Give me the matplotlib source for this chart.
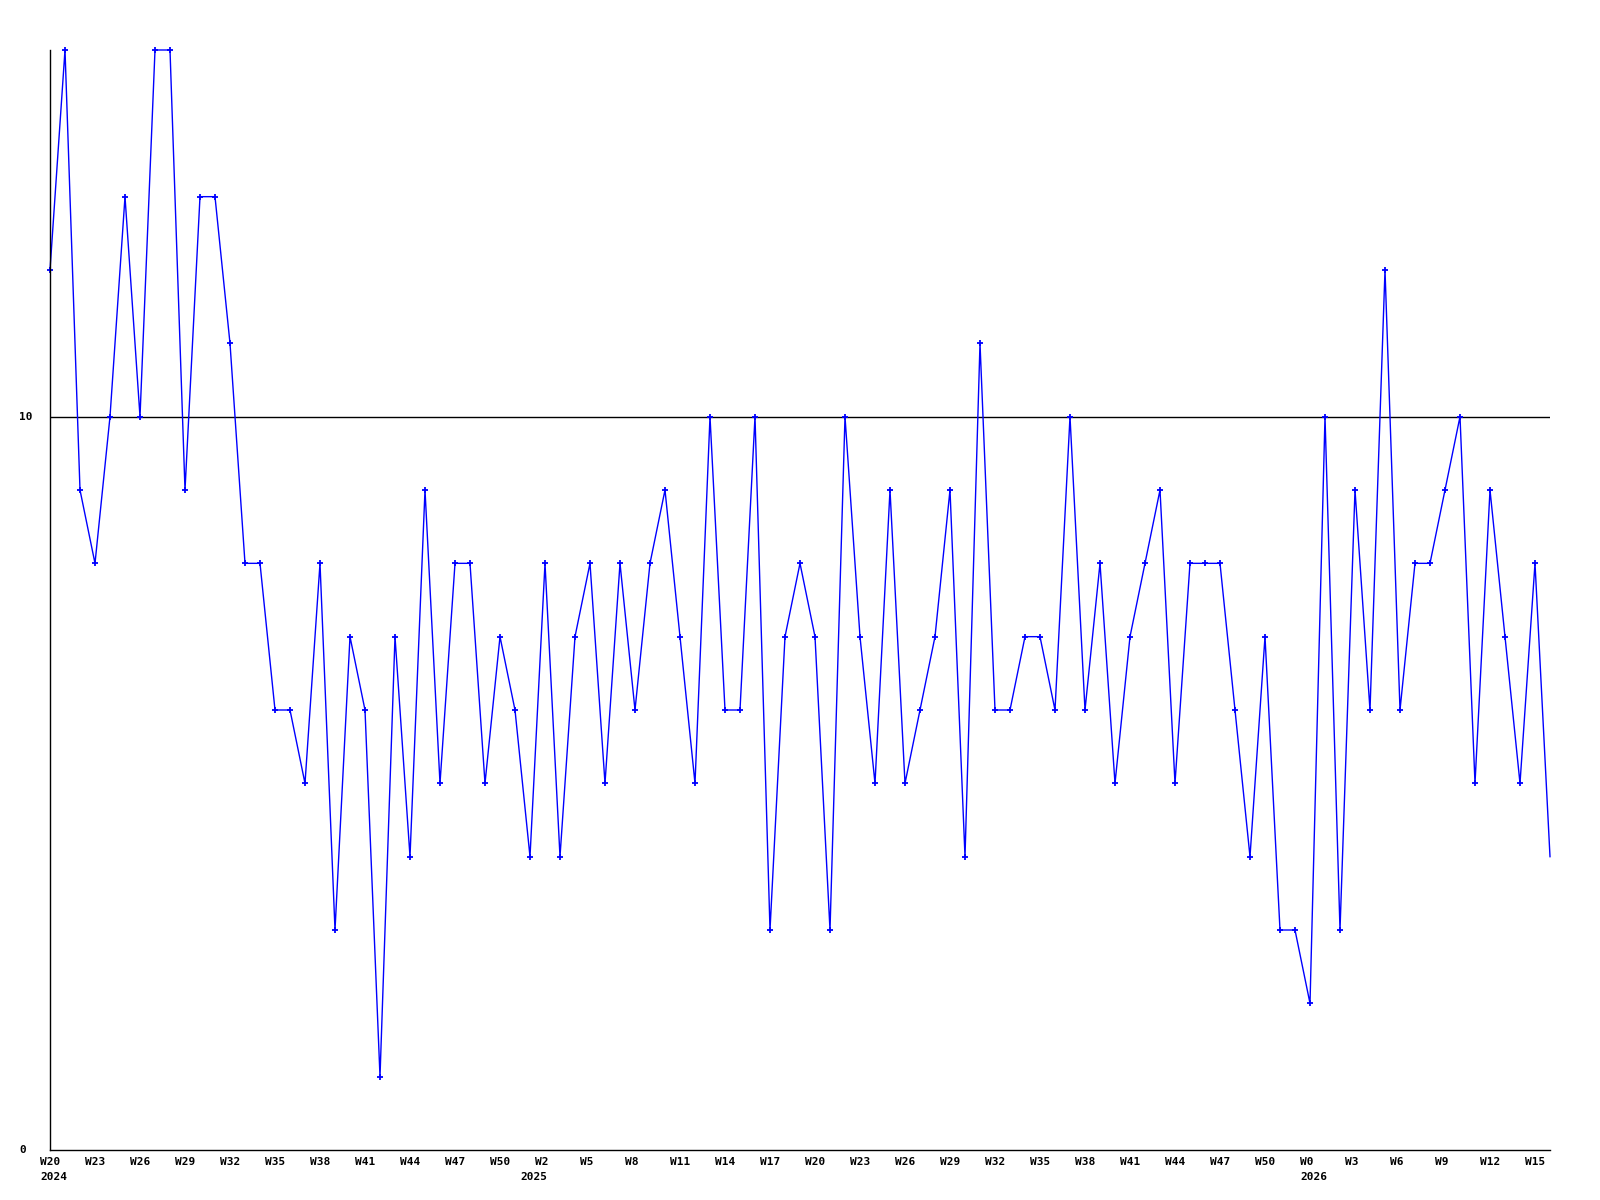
import matplotlib
matplotlib.use("Agg")
import matplotlib.pyplot as plt
from matplotlib.transforms import ScaledTranslation, blended_transform_factory

values = [12, 15, 9, 8, 10, 13, 10, 15, 15, 9,
          13, 13, 11, 8, 8, 6, 6, 5, 8, 3,
          7, 6, 1, 7, 4, 9, 5, 8, 8, 5,
          7, 6, 4, 8, 4, 7, 8, 5, 8, 6,
          8, 9, 7, 5, 10, 6, 6, 10, 3, 7,
          8, 7, 3, 10, 7, 5, 9, 5, 6, 7,
          9, 4, 11, 6, 6, 7, 7, 6, 10, 6,
          8, 5, 7, 8, 9, 5, 8, 8, 8, 6,
          4, 7, 3, 3, 2, 10, 3, 9, 6, 12,
          6, 8, 8, 9, 10, 5, 9, 7, 5, 8,
          4]

tick_labels = ["W20", "W23", "W26", "W29", "W32", "W35", "W38", "W41", "W44", "W47", "W50",
               "W2", "W5", "W8", "W11", "W14", "W17", "W20", "W23", "W26", "W29", "W32",
               "W35", "W38", "W41", "W44", "W47", "W50",
               "W0", "W3", "W6", "W9", "W12", "W15"]
tick_step = 3
year_labels = ["2024", "2025", "2026"]
year_index = [0, 32, 84]
y_ticks = [0, 10]

fig = plt.figure(figsize=(16, 12), dpi=100)
ax = fig.add_axes([50/1600, 50/1200, 1500/1600, 1100/1200])

x = list(range(len(values)))
ax.plot(x, values, color="#0000ff", lw=1.0, marker="+", ms=5, mew=1.3, mec="#0000ff",
        markevery=list(range(len(values) - 1)), clip_on=False)
ax.axhline(10, color="black", lw=1.0, zorder=0)

ax.set_xlim(0, len(values) - 1)
ax.set_ylim(0, 15)
for s in ["top", "right"]:
    ax.spines[s].set_visible(False)
for s in ["left", "bottom"]:
    ax.spines[s].set_linewidth(1.0)
ax.set_xticks([])
ax.set_yticks([])

font = dict(family="DejaVu Sans Mono", weight="bold", size=8)
shift = ScaledTranslation(-10/100, 0, fig.dpi_scale_trans)
xt = blended_transform_factory(ax.transData, fig.transFigure) + shift

for i, lab in enumerate(tick_labels):
    ax.text(i * tick_step, 1 - 1157/1200, lab, transform=xt, ha="left", va="top",
            clip_on=False, **font)
for yl, yi in zip(year_labels, year_index):
    ax.text(yi, 1 - 1172/1200, yl, transform=xt, ha="left", va="top", clip_on=False, **font)

yt = blended_transform_factory(fig.transFigure, ax.transData)
for v in y_ticks:
    ax.text(19/1600, v, str(v), transform=yt, ha="left", va="center", **font)

fig.savefig("out.png", dpi=100)
